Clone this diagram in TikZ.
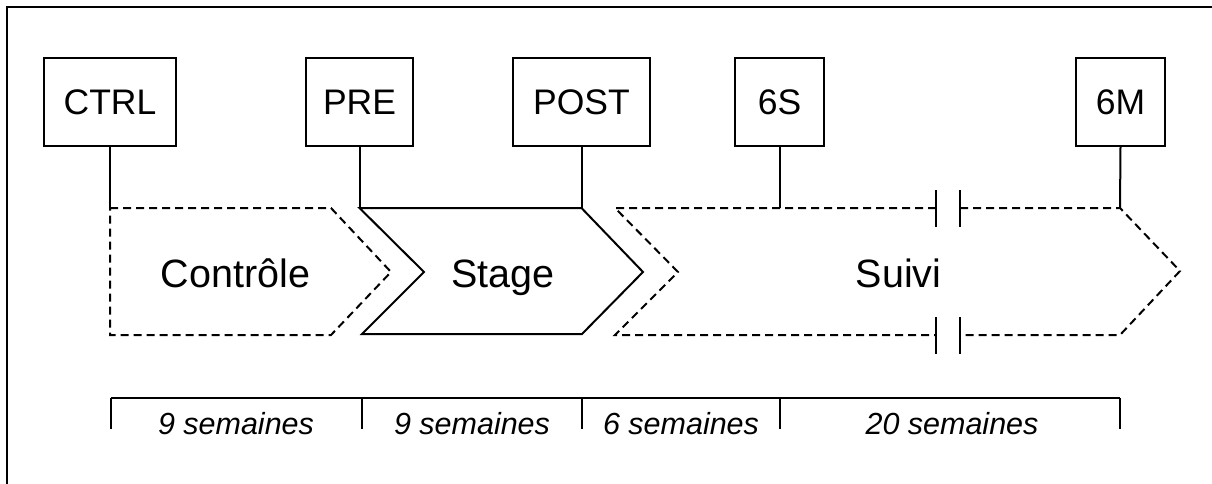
\documentclass[tikz,border=0pt]{standalone}
\usepackage{fontspec}
\setmainfont{Liberation Sans}
\begin{document}
\begin{tikzpicture}[x=1pt,y=-1pt,
  frame/.style={line width=2.8pt},
  tbox/.style={draw,line width=2pt,inner sep=0pt,outer sep=0pt,minimum height=88pt},
  blabel/.style={font=\fontsize{35.5}{41}\selectfont,inner sep=0pt,anchor=base},
  conn/.style={line width=2pt},
  solidph/.style={line width=2pt,line join=miter},
  dashph/.style={line width=2pt,dash pattern=on 8pt off 5pt},
  phlabel/.style={font=\fontsize{39.5}{45}\selectfont,inner sep=0pt,anchor=base},
  wlabel/.style={font=\fontsize{30.5}{36}\selectfont\itshape,inner sep=0pt,anchor=base},
  tline/.style={line width=2pt}]
\useasboundingbox (0,0) rectangle (1212,484);
% frame (right and bottom edges lie outside the picture)
\draw[frame] (7,490) -- (7,7) -- (1220,7);
% time-point boxes
\node[tbox,minimum width=132pt] (ctrl) at (110,102) {};
\node[tbox,minimum width=107pt] (pre) at (359.5,102) {};
\node[tbox,minimum width=137pt] (post) at (581.5,102) {};
\node[tbox,minimum width=89pt] (s6) at (779.5,102) {};
\node[tbox,minimum width=89pt] (m6) at (1120.5,102) {};
\node[blabel] (ctrlT) at (110,115) {CTRL};
\node[blabel] (preT) at (359.5,115) {PRE};
\node[blabel] (postT) at (581.5,115) {POST};
\node[blabel] (s6T) at (779.5,115) {6S};
\node[blabel] (m6T) at (1120.5,115) {6M};
% anchor points on the phase shapes
\coordinate (cA) at (110,208);
\coordinate (pA) at (359.5,208);
\coordinate (qA) at (581.5,208);
\coordinate (sA) at (779.5,208);
\coordinate (mA) at (1120,208);
% Controle phase (dashed)
\draw[dashph] (cA) -- (331,208) -- (391,272) -- (331,335) -- (110,335) -- cycle;
% Stage phase (solid)
\draw[solidph] (pA) -- (qA) -- (643,272) -- (582,334) -- (362,334) -- (424,272) -- cycle;
% Suivi phase (dashed, with break)
\draw[dashph] (936,208) -- (615,208) -- (678,272) -- (615,335) -- (936,335);
\draw[dashph] (960,208) -- (mA) -- (1180,271) -- (1120,335) -- (960,335);
\draw[conn] (936,190) -- (936,227) (960,190) -- (960,227);
\draw[conn] (936,317) -- (936,354) (960,317) -- (960,354);
% connectors
\draw[conn] (ctrl.south) -- (cA);
\draw[conn] (pre.south) -- (pA);
\draw[conn] (post.south) -- (qA);
\draw[conn] (s6.south) -- (sA);
\draw[conn] (m6.south) -- (mA);
% phase labels
\node[phlabel] (lc) at (235.5,287) {Contrôle};
\node[phlabel] (ls) at (503,287) {Stage};
\node[phlabel] (lv) at (898.5,287) {Suivi};
% timeline
\coordinate (t0) at (111,398);
\coordinate (t1) at (362,398);
\coordinate (t2) at (582,398);
\coordinate (t3) at (780,398);
\coordinate (t4) at (1120,398);
\draw[tline] (t0) -- (t4);
\foreach \t in {t0,t1,t2,t3,t4} \draw[tline] (\t) -- ++(0,31);
\node[wlabel] (w1) at (236,434) {9 semaines};
\node[wlabel] (w2) at (472,434) {9 semaines};
\node[wlabel] (w3) at (681,434) {6 semaines};
\node[wlabel] (w4) at (952,434) {20 semaines};
\end{tikzpicture}
\end{document}
